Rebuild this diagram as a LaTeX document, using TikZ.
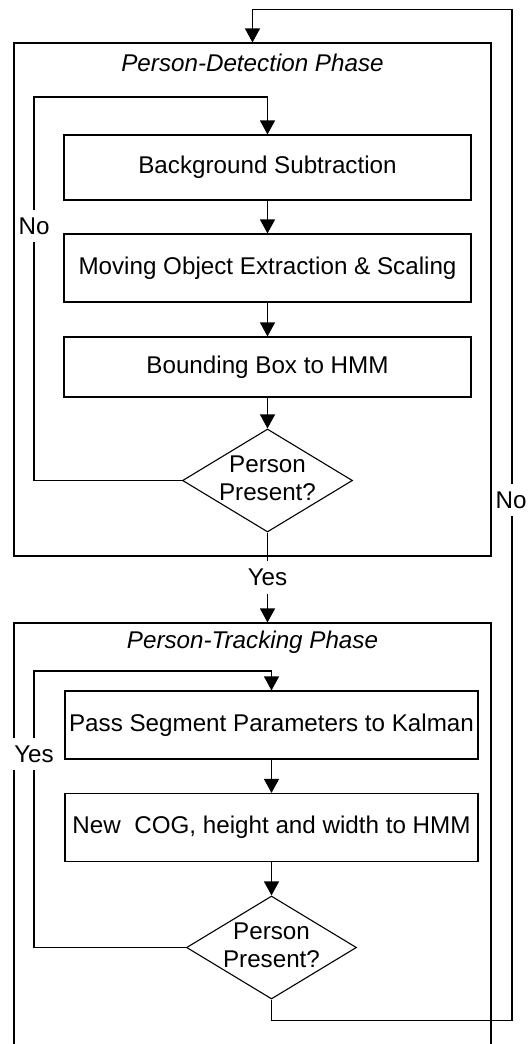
\documentclass[tikz,border=0pt]{standalone}
\usepackage{fontspec}
\setmainfont{Liberation Sans}
\usetikzlibrary{shapes.geometric, arrows.meta}

\begin{document}
\begin{tikzpicture}[x=1pt, y=-1pt, line width=1.1pt,
    font=\fontsize{24.2}{28}\selectfont,
    phasebox/.style={draw, rectangle, minimum width=477pt, inner sep=0pt},
    phasetitle/.style={font=\fontsize{24.2}{28}\selectfont\itshape},
    procbox/.style={draw, rectangle, inner sep=0pt},
    decision/.style={draw, diamond, minimum width=170pt, minimum height=103pt, inner sep=0pt},
    lbl/.style={fill=white, inner xsep=1pt, inner ysep=8pt},
    arr/.style={-{Triangle[width=15pt,length=14pt]}}]
    \clip (0,0) rectangle (528,1044);
    \node[phasebox, minimum height=513pt] (detect) at (252.5,299.5) {};
    \node[phasetitle] (detecttitle) at (252.5,63) {Person-Detection Phase};
    \node[procbox, minimum width=407pt, minimum height=65pt] (bgsub) at (267.5,167.5) {Background Subtraction};
    \node[procbox, minimum width=407pt, minimum height=68pt] (extract) at (267.5,268) {Moving Object Extraction \& Scaling};
    \node[procbox, minimum width=407pt, minimum height=60pt] (bbox) at (267.5,367) {Bounding Box to HMM};
    \node[decision] (present1) at (267.5,480.5) {\makebox[0pt]{\begin{tabular}{@{}c@{}}Person\\Present?\end{tabular}}};
    \node[phasebox, minimum height=477pt] (track) at (252.5,861.5) {};
    \node[phasetitle] (tracktitle) at (252.5,642) {Person-Tracking Phase};
    \node[procbox, minimum width=413pt, minimum height=68pt] (kalman) at (271.5,725) {Pass Segment Parameters to Kalman};
    \node[procbox, minimum width=413pt, minimum height=68pt] (cog) at (271.5,827.5) {New\ \ COG, height and width to HMM};
    \node[decision] (present2) at (271.5,947.5) {\makebox[0pt]{\begin{tabular}{@{}c@{}}Person\\Present?\end{tabular}}};
    \coordinate (noloop) at (34,97);
    \coordinate (yesloop) at (34,671);
    \coordinate (outertop) at (512,9.5);
    \coordinate (outerlow) at (512,1020.5);
    \draw[arr] (bgsub) -- (extract);
    \draw[arr] (extract) -- (bbox);
    \draw[arr] (bbox) -- (present1);
    \draw[arr] (present1.west) -| (noloop) -| (bgsub.north);
    \draw[arr] (present1.south) -- (present1.south |- track.north) node[lbl, pos=0.5] (yes1) {Yes};
    \draw[arr] (kalman) -- (cog);
    \draw[arr] (cog) -- (present2);
    \draw[arr] (present2.west) -| (yesloop) -| (kalman.north);
    \draw[arr] (present2.south) |- (outerlow) -- (outertop) -| (detect.north);
    \node[lbl] (no1) at (34,226) {No};
    \node[lbl] (yes2) at (34,754) {Yes};
    \node[lbl] (no2) at (511,500) {No};
\end{tikzpicture}
\end{document}
